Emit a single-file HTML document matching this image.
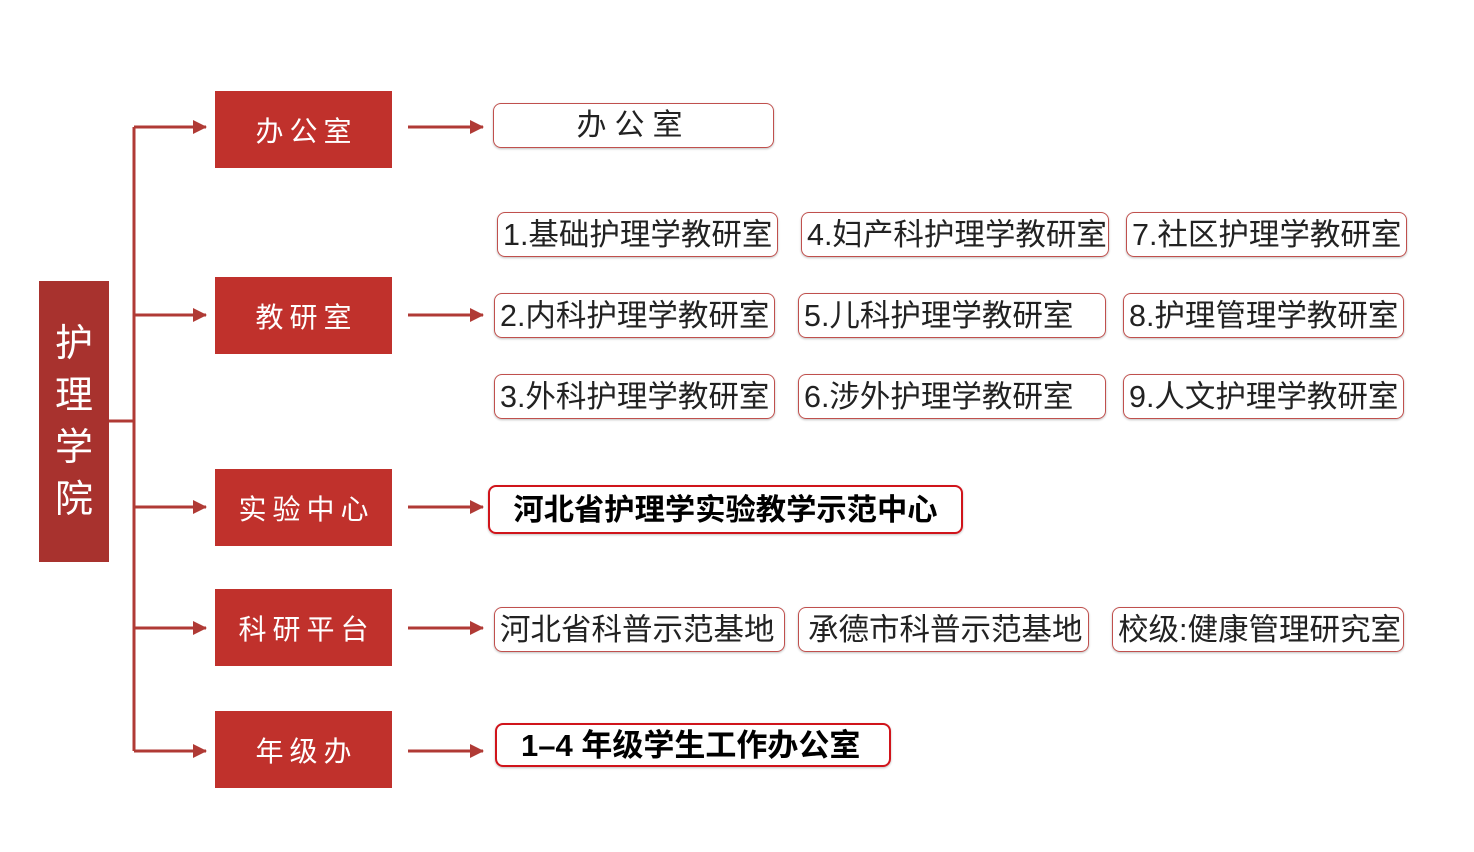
<!DOCTYPE html>
<html><head><meta charset="utf-8"><style>
body{margin:0;width:1474px;height:852px;background:#fff;position:relative;overflow:hidden;font-family:"Liberation Sans","Noto Sans CJK SC",sans-serif}
.a{position:absolute}
.m{position:absolute;left:215px;width:177px;height:77px;background:#c0312c;color:#fff;font-size:28px;display:flex;align-items:center;justify-content:center;letter-spacing:6px;text-indent:6px}
.b{position:absolute;height:45px;border:1.5px solid #c0504d;border-radius:8px;box-sizing:border-box;font-size:30.5px;line-height:44px;padding-left:5px;color:#222;white-space:nowrap;overflow:hidden;box-shadow:0 1px 2px rgba(0,0,0,.25)}
.r{border:2px solid #d0141b;color:#000;font-weight:bold;}
</style></head><body>
<div class="a" style="left:39px;top:281px;width:70px;height:281px;background:#a8322e;color:#fff;font-size:38px;line-height:52px;display:flex;flex-direction:column;align-items:center;justify-content:center">护<br>理<br>学<br>院</div>
<svg class="a" style="left:0;top:0" width="1474" height="852">
<defs><marker id="ar" markerWidth="14" markerHeight="14" refX="13" refY="7" orient="auto" markerUnits="userSpaceOnUse"><path d="M0,0L14,7L0,14z" fill="#b03a35"/></marker></defs>
<g stroke="#b03a35" stroke-width="3" fill="none">
<path d="M109,421H134M134,127V751"/>
<path d="M134,127H206" marker-end="url(#ar)"/>
<path d="M134,315H206" marker-end="url(#ar)"/>
<path d="M134,507H206" marker-end="url(#ar)"/>
<path d="M134,628H206" marker-end="url(#ar)"/>
<path d="M134,751H206" marker-end="url(#ar)"/>
<path d="M408,127H483" marker-end="url(#ar)"/>
<path d="M408,315H483" marker-end="url(#ar)"/>
<path d="M408,507H483" marker-end="url(#ar)"/>
<path d="M408,628H483" marker-end="url(#ar)"/>
<path d="M408,751H483" marker-end="url(#ar)"/>
</g></svg>
<div class="m" style="top:91px">办公室</div>
<div class="m" style="top:277px">教研室</div>
<div class="m" style="top:469px">实验中心</div>
<div class="m" style="top:589px">科研平台</div>
<div class="m" style="top:711px">年级办</div>

<div class="b" style="left:493px;top:103px;width:281px;text-align:center;padding:0;letter-spacing:8px;font-size:30px">办公室</div>
<div class="b" style="left:497px;top:212px;width:281px">1.基础护理学教研室</div>
<div class="b" style="left:801px;top:212px;width:308px">4.妇产科护理学教研室</div>
<div class="b" style="left:1126px;top:212px;width:281px">7.社区护理学教研室</div>
<div class="b" style="left:494px;top:293px;width:281px">2.内科护理学教研室</div>
<div class="b" style="left:798px;top:293px;width:308px">5.儿科护理学教研室</div>
<div class="b" style="left:1123px;top:293px;width:281px">8.护理管理学教研室</div>
<div class="b" style="left:494px;top:374px;width:281px">3.外科护理学教研室</div>
<div class="b" style="left:798px;top:374px;width:308px">6.涉外护理学教研室</div>
<div class="b" style="left:1123px;top:374px;width:281px">9.人文护理学教研室</div>
<div class="b r" style="left:488px;top:485px;width:475px;height:49px;line-height:47px;text-align:center;padding:0;font-size:30.3px">河北省护理学实验教学示范中心</div>
<div class="b" style="left:494px;top:607px;width:291px">河北省科普示范基地</div>
<div class="b" style="left:798px;top:607px;width:291px;padding-left:9px">承德市科普示范基地</div>
<div class="b r" style="left:495px;top:723px;width:396px;height:44px;line-height:42px;padding-left:24px;font-size:31px">1–4 年级学生工作办公室</div>
<div class="b" style="left:1112px;top:607px;width:292px">校级:健康管理研究室</div>
</body></html>
